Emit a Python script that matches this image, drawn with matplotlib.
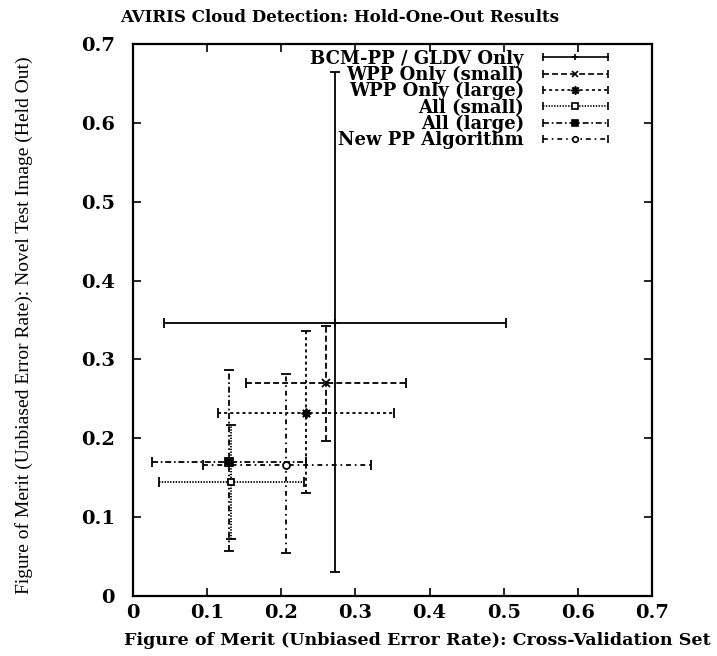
import matplotlib
matplotlib.use("Agg")
import matplotlib.pyplot as plt
import numpy as np
from matplotlib.lines import Line2D
from matplotlib.legend_handler import HandlerBase

plt.rcParams['lines.scale_dashes'] = False

# ---- data (center, low, high) ----
labels = ["BCM-PP / GLDV Only", "WPP Only (small)", "WPP Only (large)",
          "All (small)", "All (large)", "New PP Algorithm"]
x_center = [0.272, 0.260, 0.233, 0.132, 0.129, 0.207]
x_low    = [0.042, 0.152, 0.114, 0.035, 0.025, 0.095]
x_high   = [0.503, 0.368, 0.352, 0.230, 0.234, 0.321]
y_center = [0.346, 0.270, 0.232, 0.144, 0.170, 0.166]
y_low    = [0.031, 0.196, 0.130, 0.072, 0.057, 0.054]
y_high   = [0.665, 0.342, 0.336, 0.217, 0.286, 0.281]

ticks = [0, 0.1, 0.2, 0.3, 0.4, 0.5, 0.6, 0.7]
tick_labels = ["0", "0.1", "0.2", "0.3", "0.4", "0.5", "0.6", "0.7"]

# ---- styles ----
linestyles = ['-', (0, (4.3, 2.2)), (0, (2.2, 2.2)), (0, (1.0, 1.0)),
              (0, (4.3, 2.0, 1.2, 2.0)), (0, (3.5, 2.8, 1.2, 2.8))]
markers = ['+', 'x', (8, 2, 0), 's', 's', 'o']
mfaces = ['k', 'k', 'k', 'white', 'k', 'white']
msizes = [6, 6, 7, 5, 6, 5]

fig = plt.figure(figsize=(7.17, 6.56), dpi=100)
ax = fig.add_axes([0.1855, 0.0915, 0.9093 - 0.1855, 0.9329 - 0.0915])

serif = ['DejaVu Serif']
handles = []
for i in range(len(labels)):
    xc, yc = x_center[i], y_center[i]
    xerr = [[xc - x_low[i]], [x_high[i] - xc]]
    yerr = [[yc - y_low[i]], [y_high[i] - yc]]
    eb = ax.errorbar([xc], [yc], xerr=xerr, yerr=yerr, fmt='none',
                     ecolor='k', elinewidth=1.3, capsize=3.5, capthick=1.3)
    for lc in eb[2]:
        lc.set_linestyle(linestyles[i])
    ax.plot([xc], [yc], linestyle='none', marker=markers[i], color='k',
            markerfacecolor=mfaces[i], markeredgecolor='k', markersize=msizes[i],
            markeredgewidth=1.3, zorder=5)
    h = Line2D([], [], color='k', lw=1.2, marker=markers[i],
               markerfacecolor=mfaces[i], markersize=msizes[i] - 1,
               markeredgewidth=1.2)
    h._ls_spec = linestyles[i]
    handles.append(h)


class GnuHandler(HandlerBase):
    def create_artists(self, legend, orig_handle, xdescent, ydescent,
                       width, height, fontsize, trans):
        y = height / 2.0 - ydescent
        x0 = -xdescent
        x1 = -xdescent + width
        ln = Line2D([x0, x1], [y, y], color='k', lw=1.2)
        ln.set_linestyle(orig_handle._ls_spec)
        caps = Line2D([x0, x1], [y, y], color='k', linestyle='none',
                      marker='|', markersize=6, markeredgewidth=1.2)
        mk = Line2D([(x0 + x1) / 2.0], [y], linestyle='none',
                    marker=orig_handle.get_marker(), color='k',
                    markerfacecolor=orig_handle.get_markerfacecolor(),
                    markeredgecolor='k', markersize=orig_handle.get_markersize(),
                    markeredgewidth=1.2)
        for a in (ln, caps, mk):
            a.set_transform(trans)
        return [ln, caps, mk]


leg = ax.legend(handles, labels, loc='upper right', frameon=False,
                markerfirst=False, handlelength=3.6, handletextpad=1.05,
                labelspacing=-0.1, borderaxespad=0.0, borderpad=0.0,
                bbox_to_anchor=(0.915, 0.99),
                prop={'family': serif, 'size': 13, 'weight': 'bold'},
                handler_map={Line2D: GnuHandler()})
for t in leg.get_texts():
    t.set_ha('right')

ax.set_xlim(0, 0.7)
ax.set_ylim(0, 0.7)
ax.set_xticks(ticks)
ax.set_xticklabels(tick_labels)
ax.set_yticks(ticks)
ax.set_yticklabels(tick_labels)
ax.tick_params(direction='in', length=6, width=1.2, top=True, right=True,
               labelsize=14)
ax.tick_params(axis='x', pad=6)
ax.tick_params(axis='y', pad=13)
for lab in ax.get_xticklabels() + ax.get_yticklabels():
    lab.set_family(serif)
    lab.set_weight('bold')
for sp in ax.spines.values():
    sp.set_linewidth(1.6)

ax.set_title("AVIRIS Cloud Detection: Hold-One-Out Results",
             family=serif, fontsize=12, weight='bold', pad=16, x=0.399)
ax.set_xlabel("Figure of Merit (Unbiased Error Rate): Cross-Validation Set",
              family=serif, fontsize=12.6, weight='bold')
ax.xaxis.set_label_coords(0.547, -0.066)
ax.set_ylabel("Figure of Merit (Unbiased Error Rate): Novel Test Image (Held Out)",
              family=['Liberation Serif'], fontsize=14)
ax.yaxis.set_label_coords(-0.193, 0.49)

fig.savefig("out.png", dpi=100)
